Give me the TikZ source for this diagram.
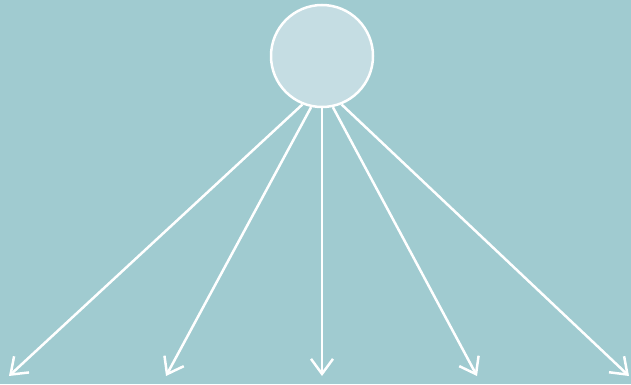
\documentclass[tikz,border=0pt]{standalone}
\usetikzlibrary{arrows.meta}
\definecolor{bgc}{HTML}{A0CBD0}
\definecolor{circc}{HTML}{C5DDE3}
\begin{document}
\begin{tikzpicture}[x=1pt,y=1pt,
  hub/.style={circle,draw=white,line width=2.5pt,fill=circc,minimum size=102pt,inner sep=0pt},
  ray/.style={draw=white,line width=2.5pt,-{Straight Barb[length=15pt,width=22pt,line width=2.5pt]}}]
\fill[bgc] (0,0) rectangle (631,384);
\useasboundingbox (0,0) rectangle (631,384);
\node[hub] (c) at (322,328) {};
\coordinate (e1) at (9,8);
\coordinate (e2) at (166,8);
\coordinate (e3) at (322,8);
\coordinate (e4) at (477,8);
\coordinate (e5) at (629,8);
\draw[ray] (c.248) -- (e1);
\draw[ray] (c.258) -- (e2);
\draw[ray] (c.270) -- (e3);
\draw[ray] (c.282) -- (e4);
\draw[ray] (c.292) -- (e5);
\end{tikzpicture}
\end{document}
